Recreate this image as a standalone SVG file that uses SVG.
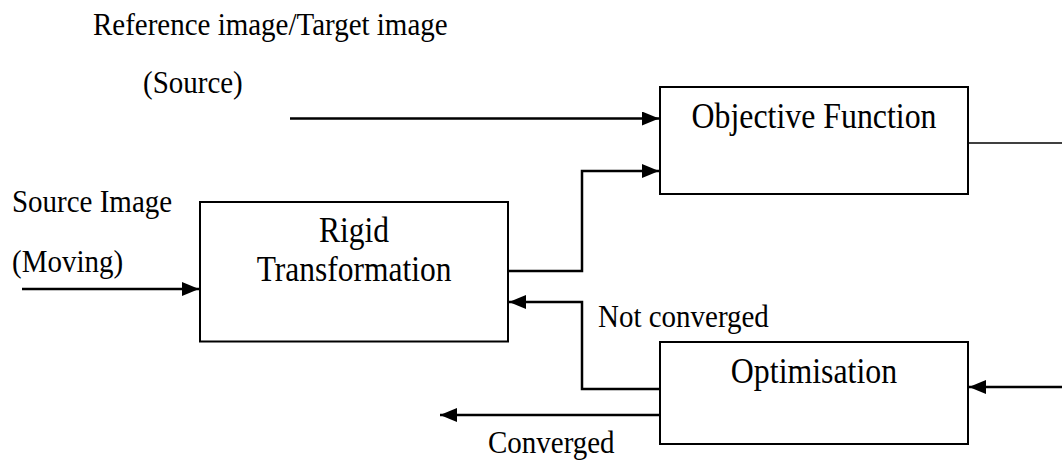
<svg xmlns="http://www.w3.org/2000/svg" width="1062" height="461" viewBox="0 0 1062 461">
<style>
  .box { fill: #ffffff; stroke: #000000; stroke-width: 2; }
  .lbl { font-family: "Liberation Serif", "Times New Roman", serif; font-size: 32px; fill: #000000; }
  .btx { font-family: "Liberation Serif", "Times New Roman", serif; font-size: 35px; fill: #000000; text-anchor: middle; }
  .wire { fill: none; stroke: #000000; stroke-width: 2.5; }
  .thin { fill: none; stroke: #000000; stroke-width: 1.6; }
  .arr { marker-end: url(#ah); }
</style>
<defs>
  <marker id="ah" viewBox="0 0 17 14" refX="17" refY="7" markerWidth="17" markerHeight="14" markerUnits="userSpaceOnUse" orient="auto">
    <path d="M0,0 L17,7 L0,14 Z" fill="#000000"/>
  </marker>
</defs>
<rect width="1062" height="461" fill="#ffffff"/>

<g id="labels">
  <text class="lbl" transform="translate(93,35) scale(0.906,1)">Reference image/Target image</text>
  <text class="lbl" transform="translate(143,93) scale(0.906,1)">(Source)</text>
  <text class="lbl" transform="translate(12,212) scale(0.906,1)">Source Image</text>
  <text class="lbl" transform="translate(12,272) scale(0.906,1)">(Moving)</text>
  <text class="lbl" transform="translate(598,327) scale(0.906,1)">Not converged</text>
  <text class="lbl" transform="translate(488,453) scale(0.906,1)">Converged</text>
</g>

<g id="connectors">
  <path class="wire arr" d="M290,118.5 L659,118.5"/>
  <path class="wire arr" d="M22,289 L199,289"/>
  <path class="wire arr" d="M509,271 L582,271 L582,171 L659,171"/>
  <path class="wire arr" d="M659,389 L582,389 L582,302 L509,302"/>
  <path class="wire arr" d="M659,415 L440,415"/>
  <path class="thin" d="M969,143 L1062,143"/>
  <path class="wire arr" d="M1062,387 L969,387"/>
</g>

<g id="node-objective">
  <rect class="box" x="660" y="87" width="308" height="107"/>
  <text class="btx" transform="translate(814,128) scale(0.91,1)">Objective Function</text>
</g>

<g id="node-rigid">
  <rect class="box" x="200" y="202" width="308" height="139.5"/>
  <text class="btx" transform="translate(354,242) scale(0.9,1)">Rigid</text>
  <text class="btx" transform="translate(354,281) scale(0.9,1)">Transformation</text>
</g>

<g id="node-optimisation">
  <rect class="box" x="660" y="342" width="308" height="102"/>
  <text class="btx" transform="translate(814,383) scale(0.91,1)">Optimisation</text>
</g>
</svg>
